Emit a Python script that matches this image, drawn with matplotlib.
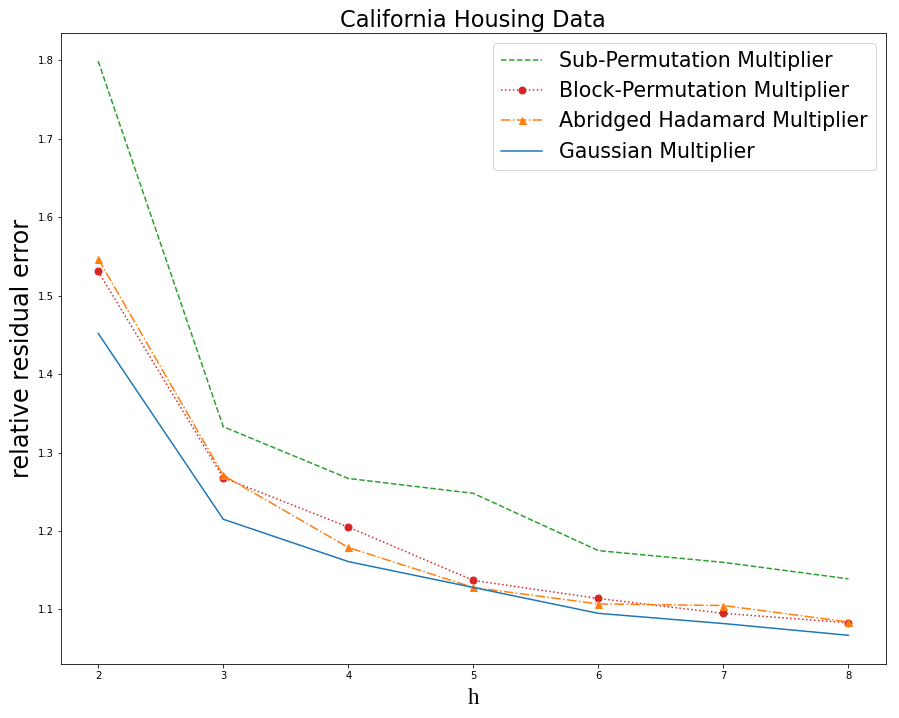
import matplotlib
matplotlib.use("Agg")
import matplotlib.pyplot as plt

h = [2, 3, 4, 5, 6, 7, 8]
sub_perm = [1.799, 1.333, 1.267, 1.248, 1.175, 1.160, 1.139]
block_perm = [1.531, 1.268, 1.205, 1.137, 1.114, 1.095, 1.083]
abridged = [1.547, 1.271, 1.179, 1.128, 1.107, 1.105, 1.084]
gaussian = [1.452, 1.215, 1.161, 1.128, 1.095, 1.082, 1.067]


def main():
    fig = plt.figure(figsize=(899 / 72, 718 / 72), dpi=72)
    ax = fig.add_axes([0.0675, 0.0752, 0.918, 0.8795])
    ax.plot(h, sub_perm, '--', color='tab:green', label='Sub-Permutation Multiplier')
    ax.plot(h, block_perm, ':', color='tab:red', marker='o', markersize=7, label='Block-Permutation Multiplier')
    ax.plot(h, abridged, '-.', color='tab:orange', marker='^', markersize=7, label='Abridged Hadamard Multiplier')
    ax.plot(h, gaussian, '-', color='tab:blue', label='Gaussian Multiplier')
    ax.set_title('California Housing Data', fontsize=22.5)
    ax.set_ylabel('relative residual error', fontsize=24)
    ax.set_xlabel('h', fontsize=23, family='Liberation Serif', labelpad=7)
    ax.legend(loc='upper right', fontsize=20.5)
    fig.savefig('out.png', dpi=72)


main()
